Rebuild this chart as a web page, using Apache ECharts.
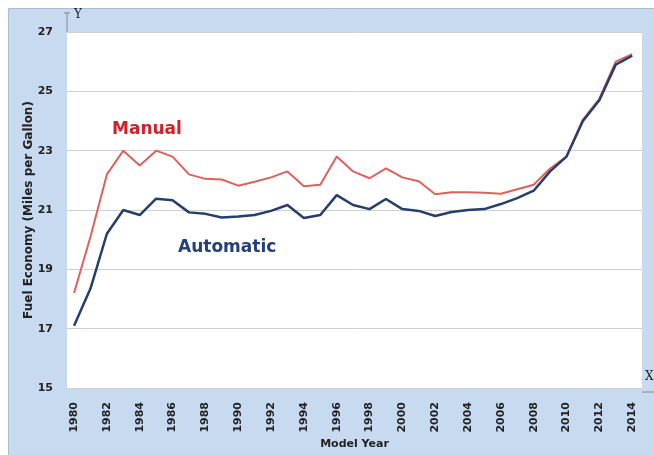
<!DOCTYPE html>
<html>
<head>
<meta charset="utf-8">
<script src="https://cdn.jsdelivr.net/npm/echarts@6/dist/echarts.min.js"></script>
<style>
html,body{margin:0;padding:0;background:#fff;}
#chart{width:654px;height:455px;}
</style>
</head>
<body>
<div id="chart"></div>
<script>
const years = [1980,1981,1982,1983,1984,1985,1986,1987,1988,1989,1990,1991,1992,1993,1994,1995,1996,1997,1998,1999,2000,2001,2002,2003,2004,2005,2006,2007,2008,2009,2010,2011,2012,2013,2014];
const manual = [18.2,20.1,22.2,23.0,22.5,23.0,22.8,22.2,22.05,22.03,21.82,21.95,22.1,22.3,21.8,21.85,22.8,22.3,22.07,22.4,22.1,21.97,21.53,21.6,21.6,21.58,21.55,21.7,21.85,22.4,22.8,24.05,24.75,26.0,26.25];
const automatic = [17.1,18.35,20.2,21.0,20.83,21.38,21.33,20.92,20.87,20.75,20.78,20.83,20.97,21.17,20.73,20.83,21.5,21.17,21.03,21.37,21.03,20.97,20.8,20.93,21.0,21.03,21.2,21.4,21.65,22.3,22.8,24.0,24.7,25.9,26.2];
const xTickLabels = [1980,1982,1984,1986,1988,1990,1992,1994,1996,1998,2000,2002,2004,2006,2008,2010,2012,2014];
const seriesNames = ['Manual','Automatic'];

const chart = echarts.init(document.getElementById('chart'), null, {renderer:'canvas'});
const pair = arr => years.map((y,i)=>[y, arr[i]]);
const sans = 'DejaVu Sans';
chart.setOption({
  animation:false,
  backgroundColor:'#ffffff',
  graphic:[
    {type:'rect', left:8, top:8, shape:{width:646, height:447}, style:{fill:'#c7daf0', stroke:'#a9bdd5', lineWidth:1}, z:-10},
    {type:'line', shape:{x1:67,y1:12,x2:67,y2:32}, style:{stroke:'#8a8a8a', lineWidth:1}, z:5},
    {type:'line', shape:{x1:64,y1:13,x2:70,y2:13}, style:{stroke:'#8a8a8a', lineWidth:1}, z:5},
    {type:'text', left:74, top:9, style:{text:'Y', font:'12px "DejaVu Serif"', fill:'#222'}, z:5},
    {type:'line', shape:{x1:642,y1:392,x2:654,y2:392}, style:{stroke:'#8a8a8a', lineWidth:1}, z:5},
    {type:'text', left:645, top:371, style:{text:'X', font:'12px "DejaVu Serif"', fill:'#222'}, z:5},
    {type:'text', left:112, top:121, style:{text:seriesNames[0], font:'bold 17px "DejaVu Sans"', fill:'#cc2229'}, z:5},
    {type:'text', left:178, top:239, style:{text:seriesNames[1], font:'bold 17px "DejaVu Sans"', fill:'#233f7a'}, z:5}
  ],
  grid:{left:67, right:12, top:32, bottom:63, show:true, backgroundColor:'#ffffff', borderWidth:0},
  xAxis:{
    type:'value', min:1979.57, max:2014.6,
    name:'Model Year', nameLocation:'middle', nameGap:51, nameMoveOverlap:false,
    nameTextStyle:{fontFamily:sans, fontWeight:'bold', fontSize:11, color:'#222'},
    axisLine:{show:false}, axisTick:{show:false}, splitLine:{show:false},
    axisLabel:{customValues:xTickLabels, formatter:v=>String(v), rotate:90, margin:14, fontFamily:sans, fontWeight:'bold', fontSize:11, color:'#222'}
  },
  yAxis:{
    type:'value', min:15, max:27, interval:2,
    name:'Fuel Economy (Miles per Gallon)', nameLocation:'middle', nameGap:32, nameMoveOverlap:false,
    nameTextStyle:{fontFamily:sans, fontWeight:'bold', fontSize:12, color:'#222'},
    axisLine:{show:false}, axisTick:{show:false},
    splitLine:{lineStyle:{color:'#cfcfcf', width:1}},
    axisLabel:{margin:14, fontFamily:sans, fontWeight:'bold', fontSize:11, color:'#222'}
  },
  series:[
    {name:seriesNames[0], type:'line', data:pair(manual), showSymbol:false, lineStyle:{color:'#e0605c', width:2}, itemStyle:{color:'#e0605c'}, z:2},
    {name:seriesNames[1], type:'line', data:pair(automatic), showSymbol:false, lineStyle:{color:'#263e6c', width:2.5}, itemStyle:{color:'#263e6c'}, z:3}
  ]
});
</script>
</body>
</html>
